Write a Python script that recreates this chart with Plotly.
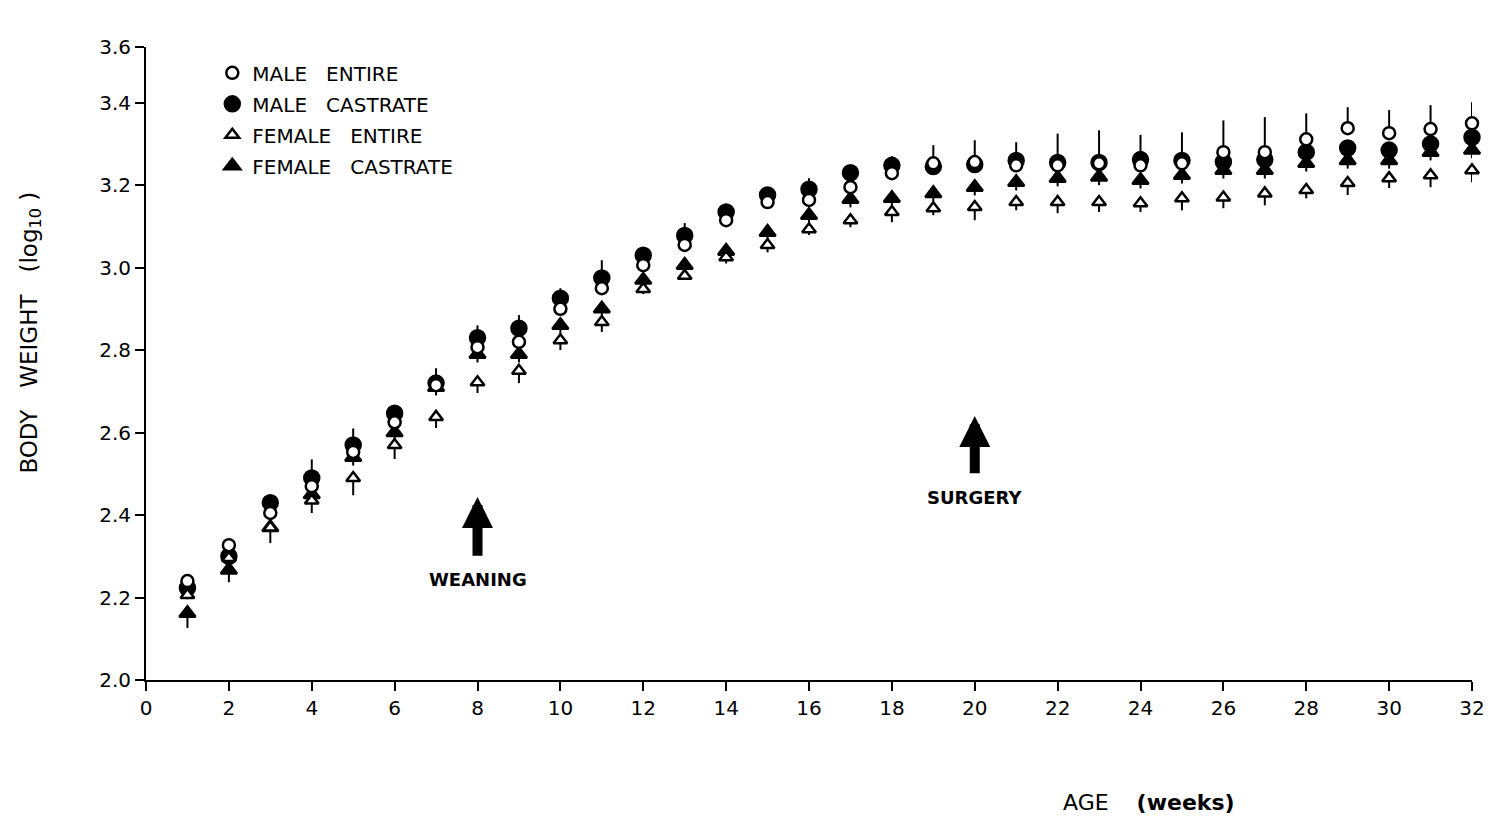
import plotly.graph_objects as go

# ---------------- data ----------------
weeks = list(range(1, 33))

male_entire = [2.240, 2.327, 2.405, 2.470, 2.553, 2.625, 2.715, 2.807, 2.820, 2.900,
               2.950, 3.006, 3.055, 3.115, 3.159, 3.164, 3.195, 3.229, 3.253, 3.256,
               3.248, 3.248, 3.253, 3.248, 3.253, 3.280, 3.280, 3.311, 3.338, 3.326,
               3.336, 3.350]
male_entire_err_up = [0.010, 0.017, 0.010, 0.010, 0.010, 0.010, 0.010, 0.010, 0.010, 0.010,
                      0.010, 0.010, 0.010, 0.010, 0.010, 0.010, 0.010, 0.010, 0.044, 0.053,
                      0.010, 0.010, 0.010, 0.010, 0.010, 0.077, 0.085, 0.063, 0.051, 0.056,
                      0.058, 0.051]

male_castrate = [2.223, 2.300, 2.430, 2.490, 2.570, 2.647, 2.720, 2.830, 2.853, 2.926,
                 2.975, 3.030, 3.078, 3.135, 3.176, 3.190, 3.230, 3.248, 3.245, 3.250,
                 3.260, 3.255, 3.255, 3.262, 3.260, 3.256, 3.262, 3.280, 3.290, 3.285,
                 3.300, 3.316]
male_castrate_err_up = [0.030, 0.020, 0.020, 0.045, 0.040, 0.012, 0.036, 0.030, 0.032, 0.024,
                        0.043, 0.020, 0.030, 0.015, 0.016, 0.027, 0.014, 0.022, 0.010, 0.010,
                        0.044, 0.070, 0.078, 0.060, 0.068, 0.010, 0.010, 0.010, 0.010, 0.010,
                        0.010, 0.010]

female_entire = [2.206, 2.296, 2.370, 2.435, 2.490, 2.570, 2.638, 2.722, 2.750, 2.824,
                 2.868, 2.948, 2.980, 3.025, 3.055, 3.093, 3.115, 3.135, 3.144, 3.147,
                 3.159, 3.159, 3.159, 3.156, 3.168, 3.170, 3.180, 3.188, 3.205, 3.217,
                 3.224, 3.236]
female_entire_err_down = [0.010, 0.010, 0.010, 0.030, 0.042, 0.034, 0.027, 0.026, 0.030, 0.024,
                          0.024, 0.012, 0.010, 0.015, 0.018, 0.014, 0.017, 0.025, 0.017, 0.032,
                          0.020, 0.027, 0.024, 0.021, 0.029, 0.026, 0.029, 0.020, 0.029, 0.024,
                          0.029, 0.029]

female_castrate = [2.162, 2.267, 2.370, 2.450, 2.540, 2.600, 2.710, 2.790, 2.790, 2.860,
                   2.900, 2.970, 3.006, 3.040, 3.086, 3.127, 3.166, 3.168, 3.180, 3.195,
                   3.207, 3.217, 3.220, 3.212, 3.224, 3.236, 3.236, 3.253, 3.260, 3.260,
                   3.280, 3.285]
female_castrate_err_down = [0.036, 0.030, 0.038, 0.020, 0.020, 0.020, 0.020, 0.020, 0.020, 0.020,
                            0.020, 0.020, 0.020, 0.020, 0.020, 0.020, 0.020, 0.020, 0.020, 0.020,
                            0.020, 0.020, 0.020, 0.020, 0.020, 0.020, 0.020, 0.020, 0.020, 0.020,
                            0.020, 0.020]

x_tick_vals = list(range(0, 33, 2))
x_tick_text = [str(v) for v in x_tick_vals]
y_axis_top = 3.535
y_tick_vals = [2.0, 2.2, 2.4, 2.6, 2.8, 3.0, 3.2, 3.4, y_axis_top]
y_tick_text = ["2.0", "2.2", "2.4", "2.6", "2.8", "3.0", "3.2", "3.4", "3.6"]

# event arrows: week, arrow tip value, label centre value
events = [
    {"label": "WEANING", "week": 8, "tip": 2.444, "label_y": 2.243},
    {"label": "SURGERY", "week": 20, "tip": 2.640, "label_y": 2.443},
]

# ---------------- figure ----------------
FONT = "DejaVu Sans"
fig = go.Figure()

def add_series(name, y, err_plus, err_minus, symbol, fill, size, rank):
    fig.add_trace(go.Scatter(
        x=weeks, y=y, mode="markers", name=name,
        legendgroup=name, legendrank=rank,
        marker=dict(symbol=symbol, size=size, color=fill,
                    line=dict(color="black", width=2.5)),
        error_y=dict(type="data", symmetric=False,
                     array=err_plus, arrayminus=err_minus,
                     color="black", thickness=2, width=0),
        cliponaxis=False,
    ))

zeros = [0] * len(weeks)
add_series("MALE   CASTRATE", male_castrate, male_castrate_err_up, zeros,
           "circle", "black", 15, 2)
add_series("FEMALE   CASTRATE", female_castrate, zeros, female_castrate_err_down,
           "triangle-up", "black", 14, 4)
add_series("FEMALE   ENTIRE", female_entire, zeros, female_entire_err_down,
           "triangle-up", "white", 12, 3)
add_series("MALE   ENTIRE", male_entire, male_entire_err_up, zeros,
           "circle", "white", 12, 1)

for ev in events:
    fig.add_annotation(x=ev["week"], y=ev["tip"], ax=ev["week"], ay=ev["label_y"],
                       xref="x", yref="y", axref="x", ayref="y",
                       text="<b>" + ev["label"] + "</b>", showarrow=True,
                       arrowhead=2, arrowsize=0.62, arrowwidth=10,
                       arrowcolor="black", startstandoff=12,
                       font=dict(family=FONT, size=18, color="black"))

fig.add_annotation(x=(1154 - 146) / 1333, y=-0.193, xref="paper", yref="paper",
                   xanchor="center", yanchor="middle",
                   text="AGE    <b>(weeks)</b>", showarrow=False,
                   font=dict(family=FONT, size=22, color="black"))

fig.add_annotation(x=(30 - 146) / 1333, y=(680 - 333) / 633, xref="paper", yref="paper",
                   xanchor="center", yanchor="middle", textangle=-90,
                   text="BODY   WEIGHT   (log<sub>10</sub> )", showarrow=False,
                   font=dict(family=FONT, size=23, color="black"))

fig.update_layout(
    width=1497, height=821,
    margin=dict(l=146, r=18, t=47, b=141),
    paper_bgcolor="white", plot_bgcolor="white",
    font=dict(family=FONT, size=18, color="black"),
    showlegend=True,
    legend=dict(x=0.05, y=0.99, xanchor="left", yanchor="top",
                font=dict(family=FONT, size=20, color="black"),
                bgcolor="rgba(0,0,0,0)", tracegroupgap=2,
                itemsizing="trace"),
    xaxis=dict(range=[0, 32], tickvals=x_tick_vals, ticktext=x_tick_text,
               showgrid=False, zeroline=False, showline=True,
               linecolor="black", linewidth=2, ticks="outside",
               ticklen=9, tickwidth=2, tickcolor="black",
               tickfont=dict(family=FONT, size=20)),
    yaxis=dict(range=[2.0, y_axis_top], tickvals=y_tick_vals, ticktext=y_tick_text,
               showgrid=False, zeroline=False, showline=True,
               linecolor="black", linewidth=2, ticks="outside",
               ticklen=9, tickwidth=2, tickcolor="black",
               tickfont=dict(family=FONT, size=20)),
)

fig.write_html("out.html")
